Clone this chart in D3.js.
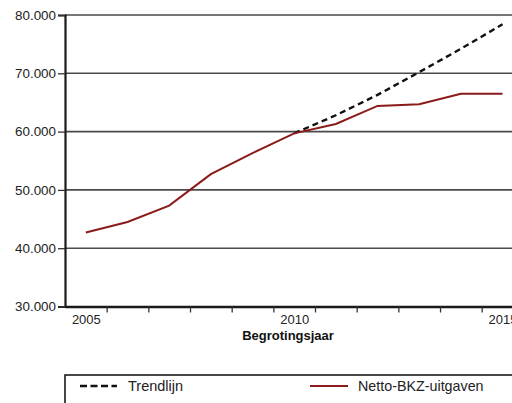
<!DOCTYPE html>
<html>
<head>
<meta charset="utf-8">
<script src="https://cdn.jsdelivr.net/npm/d3@7"></script>
<style>
  body { margin: 0; background: #fff; }
  svg { display: block; font-family: "Liberation Sans", Arial, sans-serif; }
</style>
</head>
<body>
<div id="chart"></div>
<script>
// data
const years = [2005, 2006, 2007, 2008, 2009, 2010, 2011, 2012, 2013, 2014, 2015];
const uitgaven = [42700, 44500, 47300, 52700, 56300, 59700, 61300, 64400, 64700, 66500, 66500];
const trendYears = [2010, 2011, 2012, 2013, 2014, 2015];
const trend = [59700, 62800, 66300, 70200, 74200, 78400];
const yTicks = [30000, 40000, 50000, 60000, 70000, 80000];
const xLabels = [2005, 2010, 2015];

const width = 512, height = 403;
const svg = d3.select("#chart").append("svg")
    .attr("width", width)
    .attr("height", height);

const plotLeft = 65, plotTop = 15, plotBottom = 306.5, band = 41.67;

const x = d3.scaleLinear()
    .domain([2004.5, 2015.5])
    .range([plotLeft, plotLeft + band * 11]);

const y = d3.scaleLinear()
    .domain([30000, 80000])
    .range([plotBottom, plotTop]);

const nl = d3.formatLocale({ decimal: ",", thousands: ".", grouping: [3], currency: ["", ""] });
const fmt = nl.format(",d");

// gridlines
svg.append("g")
    .selectAll("line")
    .data(yTicks.slice(1))
    .enter().append("line")
    .attr("x1", plotLeft)
    .attr("x2", width)
    .attr("y1", d => y(d))
    .attr("y2", d => y(d))
    .attr("stroke", "#4a4a4a")
    .attr("stroke-width", 1.6);

// y axis
const yAxis = svg.append("g")
    .attr("transform", `translate(${plotLeft},0)`)
    .call(d3.axisLeft(y).tickValues(yTicks).tickFormat(fmt).tickSize(7).tickPadding(2));
yAxis.select(".domain").attr("stroke", "#1a1a1a").attr("stroke-width", 2.2);
yAxis.selectAll(".tick line").attr("stroke", "#333").attr("stroke-width", 1.3);
yAxis.selectAll("text")
    .attr("font-size", 13.4)
    .attr("fill", "#222")
    .attr("font-family", "Liberation Sans, Arial, sans-serif");

// x axis ticks between years
const xAxis = svg.append("g")
    .attr("transform", `translate(0,${plotBottom})`)
    .call(d3.axisBottom(x).tickValues(d3.range(2005.5, 2015, 1)).tickFormat("").tickSize(6).tickSizeOuter(0));
xAxis.select(".domain").attr("stroke", "#1a1a1a").attr("stroke-width", 2.6);
xAxis.selectAll(".tick line").attr("stroke", "#333").attr("stroke-width", 1.3);

// x labels
const xLab = svg.append("g")
    .attr("transform", `translate(0,${plotBottom})`)
    .call(d3.axisBottom(x).tickValues(xLabels).tickFormat(d3.format("d")).tickSize(0).tickPadding(8.5));
xLab.select(".domain").remove();
xLab.selectAll("text")
    .attr("font-size", 13)
    .attr("fill", "#222")
    .attr("font-family", "Liberation Sans, Arial, sans-serif");

svg.append("text")
    .attr("x", 288)
    .attr("y", 339.5)
    .attr("text-anchor", "middle")
    .attr("font-size", 13)
    .attr("font-weight", "bold")
    .attr("fill", "#111")
    .text("Begrotingsjaar");

// lines
const line = d3.line()
    .x(d => x(d[0]))
    .y(d => y(d[1]));

svg.append("path")
    .datum(d3.zip(trendYears, trend))
    .attr("fill", "none")
    .attr("stroke", "#111")
    .attr("stroke-width", 2.4)
    .attr("stroke-dasharray", "6,4")
    .attr("d", line);

svg.append("path")
    .datum(d3.zip(years, uitgaven))
    .attr("fill", "none")
    .attr("stroke", "#8b1a1a")
    .attr("stroke-width", 2)
    .attr("d", line);

// legend
const legend = svg.append("g");
legend.append("rect")
    .attr("x", 65)
    .attr("y", 375)
    .attr("width", 460)
    .attr("height", 40)
    .attr("fill", "none")
    .attr("stroke", "#1a1a1a")
    .attr("stroke-width", 1.6);

legend.append("line")
    .attr("x1", 80).attr("x2", 117)
    .attr("y1", 386).attr("y2", 386)
    .attr("stroke", "#111")
    .attr("stroke-width", 2.4)
    .attr("stroke-dasharray", "7,3.5");
legend.append("text")
    .attr("x", 128).attr("y", 391)
    .attr("font-size", 14.5)
    .attr("fill", "#222")
    .text("Trendlijn");

legend.append("line")
    .attr("x1", 310).attr("x2", 348)
    .attr("y1", 386).attr("y2", 386)
    .attr("stroke", "#8b1a1a")
    .attr("stroke-width", 2);
legend.append("text")
    .attr("x", 358).attr("y", 391)
    .attr("font-size", 14.3)
    .attr("fill", "#222")
    .text("Netto-BKZ-uitgaven");
</script>
</body>
</html>
